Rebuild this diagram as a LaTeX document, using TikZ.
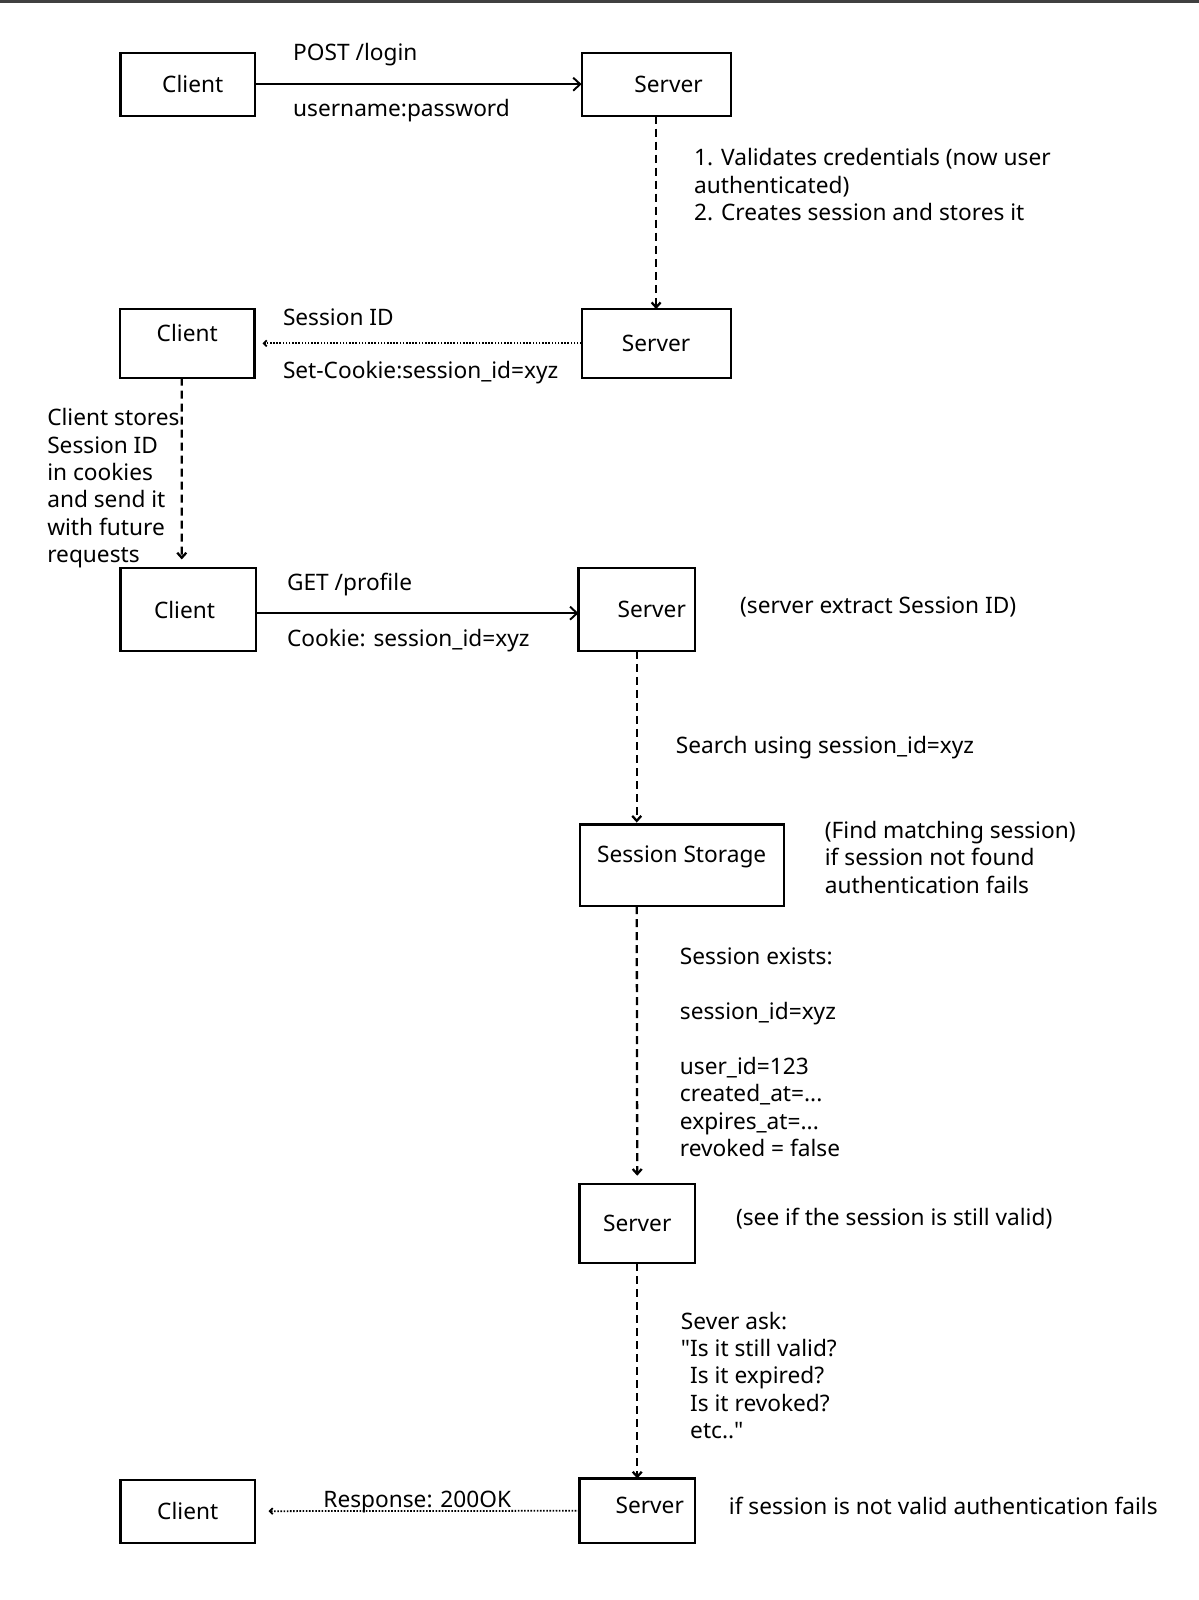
\documentclass[tikz,border=0pt]{standalone}
\usepackage{fontspec}
\setmainfont{Noto Sans}[Ligatures=TeXOff]
\usepackage{tikz}
\usetikzlibrary{arrows.meta, positioning}

\begin{document}
\begin{tikzpicture}[x=0.0204cm, y=-0.0204cm,
    font=\fontsize{12.9}{15.6}\selectfont,
    % Box styles
    box/.style={rectangle, draw, line width=1.2pt, inner sep=0pt, outer sep=0pt},
    clientbox/.style={box, minimum width=2.69cm, minimum height=1.26cm},
    serverbox/.style={box, minimum width=2.98cm, minimum height=1.26cm},
    smallserver/.style={box, minimum width=2.31cm, minimum height=1.62cm},
    storebox/.style={box, minimum width=4.08cm, minimum height=1.63cm},
    % Text styles
    note/.style={anchor=west, align=left, inner sep=0pt},
    % Arrow styles
    arrow/.style={-{Straight Barb[length=1.4mm, width=2.6mm]}, line width=1.1pt},
    dasharrow/.style={-{Straight Barb[length=1mm, width=1.8mm]}, line width=1.3pt,
                      dash pattern=on 0.16cm off 0.1cm},
    dotarrow/.style={-{Straight Barb[length=0.6mm, width=1.2mm]}, line width=1pt,
                     dash pattern=on 0.9pt off 0.9pt}
]
\useasboundingbox (0,0) rectangle (1175,1568);

% Top edge
\draw[line width=2pt, black!75] (0,1) -- (1175,1);

% Login request
\node[clientbox] at (184,82.5) (client1) {\hspace*{0.2cm}Client};
\node[serverbox] at (643,82.5) (server1) {\hspace*{0.5cm}Server};
\node[note] at (287,54) (post) {POST /login};
\node[note] at (287,108) (cred) {username:password};
\node[note] at (680,181) (steps) {1. Validates credentials (now user\\authenticated)\\2. Creates session and stores it};

% Session ID response
\node[clientbox, minimum height=1.37cm] at (183.5,336.5) (client2) {\raisebox{0.2cm}[\height][\depth]{Client}};
\node[serverbox, minimum height=1.37cm] at (643,336.5) (server2) {Server};
\node[note] at (277,311) (sid) {Session ID};
\node[note] at (277,365) (setcookie) {Set-Cookie:session\_id=xyz};
\node[note] at (46,478.5) (stores) {Client stores\\Session ID\\in cookies\\and send it\\with future\\requests};

% Profile request
\node[clientbox, minimum width=2.71cm, minimum height=1.65cm] at (184.5,597.5) (client3) {Client\hspace*{0.15cm}};
\node[smallserver, minimum width=2.33cm, minimum height=1.65cm] at (624,597.5) (server3) {\hspace*{0.6cm}Server};
\node[note] at (281,573) (get) {GET /profile};
\node[note] at (281,628) (cookie) {Cookie: session\_id=xyz};
\node[note] at (725,595) (extract) {(server extract Session ID)};
\node[note] at (662,733) (search) {Search using session\_id=xyz};

% Session storage
\node[storebox] at (668,848) (storage) {\raisebox{0.16cm}[\height][\depth]{Session Storage}};
\node[note] at (808,840) (find) {(Find matching session)\\if session not found\\authentication fails};
\node[note] at (666,1031.5) (exists) {Session exists:\\[15.6pt]session\_id=xyz\\[15.6pt]user\_id=123\\created\_at=...\\expires\_at=...\\revoked = false};

% Validity check
\node[smallserver, minimum height=1.59cm] at (624.5,1199) (server4) {Server};
\node[note] at (721,1194) (valid) {(see if the session is still valid)};
\node[note] at (667,1348) (ask) {Sever ask:\\"Is it still valid?\\\hphantom{"}Is it expired?\\\hphantom{"}Is it revoked?\\\hphantom{"}etc.."};

% Final response
\node[smallserver, minimum height=1.29cm] at (624.5,1480.5) (server5) {\hspace*{0.5cm}\raisebox{0.1cm}[\height][\depth]{Server}};
\node[clientbox] at (184,1481) (client5) {Client};
\node[note] at (714,1476) (fails) {if session is not valid authentication fails};

% Connections
\draw[arrow] (client1) -- (server1);
\draw[dasharrow] (server1) -- (server2);
\draw[dotarrow, shorten >=0.16cm] (server2) -- (client2);
\draw[dasharrow, shorten >=0.18cm] ([xshift=-0.11cm]client2.south) -- ([xshift=-0.13cm]client3.north);
\draw[arrow] ([yshift=-0.07cm]client3.east) -- ([yshift=-0.07cm]server3.west);
\draw[dasharrow, shorten >=0.04cm] (server3.south) -- (server3.south |- storage.north);
\draw[dasharrow, shorten >=0.16cm] (server3.south |- storage.south) -- (server4.north);
\draw[dasharrow] (server4) -- (server5);
\draw[dotarrow, shorten >=0.27cm] (server5) -- (client5)
    node[midway, anchor=base, inner sep=0pt, yshift=2pt] (response) {Response: 200OK};

\end{tikzpicture}
\end{document}
